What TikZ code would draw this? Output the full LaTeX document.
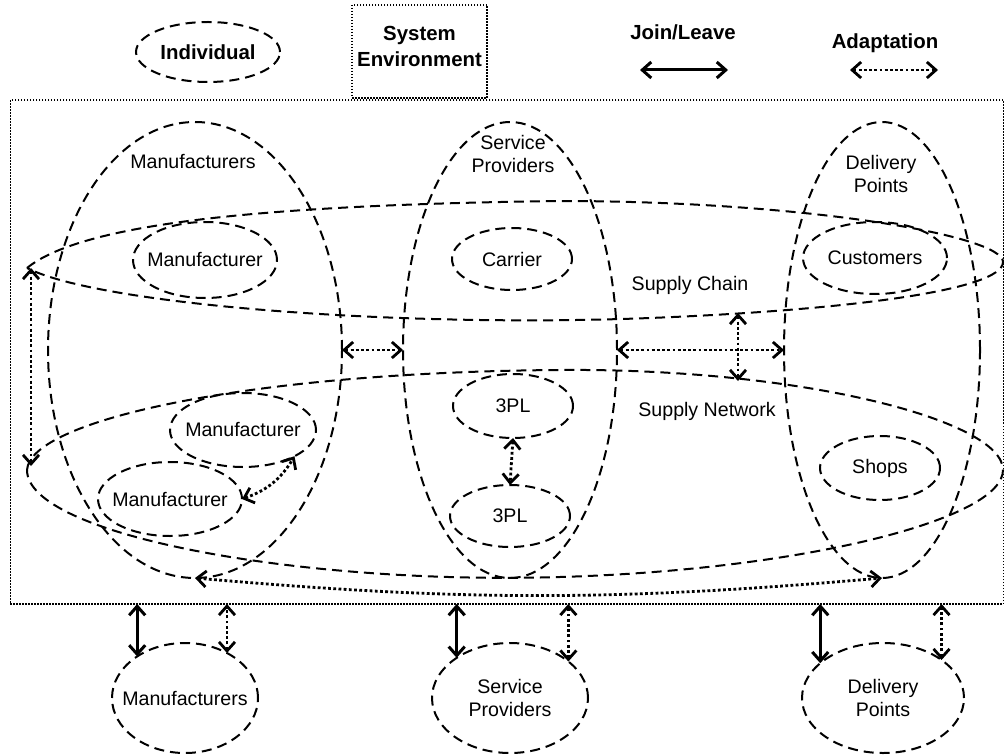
\documentclass[tikz,border=0pt]{standalone}
\usepackage{fontspec}
\setmainfont{Liberation Sans}
\usetikzlibrary{shapes.geometric,arrows.meta}
\begin{document}
\begin{tikzpicture}[x=0.5pt,y=-0.5pt,
  every node/.style={font=\fontsize{9.8}{11.5}\selectfont, inner sep=0pt, outer sep=0pt},
  every label/.style={font=\fontsize{9.8}{11.5}\selectfont, inner sep=0pt, align=center},
  dsh/.style={line width=1pt, dash pattern=on 5pt off 3pt},
  indiv/.style={ellipse, draw, dsh},
  lbl/.style={align=center},
  legtxt/.style={align=center, font=\fontsize{10.2}{13}\selectfont\bfseries},
  envbox/.style={draw, line width=0.75pt, dash pattern=on 0.75pt off 0.75pt},
  adapt/.style={line width=1.4pt, dash pattern=on 1.4pt off 1.2pt,
    {Straight Barb[length=4.5pt,width=8pt]}-{Straight Barb[length=4.5pt,width=8pt]}},
  joinarr/.style={line width=1.5pt,
    {Straight Barb[length=4.5pt,width=8pt]}-{Straight Barb[length=4.5pt,width=8pt]}}
]
\useasboundingbox (0,0) rectangle (1005,754);

% ---------- legend ----------
\node[indiv, minimum width=72pt, minimum height=30pt] (legInd) at (208,52) {};
\node[legtxt] (legIndT) at (208,52) {Individual};
\node[envbox, minimum width=67.5pt, minimum height=46.5pt] (legEnv) at (419.5,51.5) {};
\node[legtxt] (legEnvT) at (419.5,46) {System\\Environment};
\node[legtxt] (legJoinT) at (683,32) {Join/Leave};
\coordinate (jl1) at (640,70);
\coordinate (jl2) at (728,70);
\draw[joinarr] (jl1) -- (jl2);
\node[legtxt] (legAdT) at (885,43) {Adaptation};
\coordinate (ad1) at (850,70);
\coordinate (ad2) at (938,70);
\draw[adapt] (ad1) -- (ad2);

% ---------- system environment ----------
\node[envbox, minimum width=496.5pt, minimum height=252pt] (env) at (506.75,352) {};

% ---------- big groups ----------
\node[indiv, minimum width=147pt, minimum height=228pt] (M) at (195,350) {};
\node[indiv, minimum width=107pt, minimum height=228pt] (S) at (510,350) {};
\node[indiv, minimum width=98pt, minimum height=228pt] (D) at (882,350) {};
\node[lbl] (MT) at (193,162) {Manufacturers};
\node[lbl] (ST) at (513,154) {Service\\Providers};
\node[lbl] (DT) at (881,174) {Delivery\\Points};

% supply chain
\draw[dsh] (27,268) .. controls (80,225) and (250,205) .. (560,201)
  .. controls (800,201) and (1003,235) .. (1003,262)
  .. controls (1003,290) and (850,310) .. (650,318)
  .. controls (400,328) and (100,305) .. (27,268) -- cycle;
\node[lbl] (SCT) at (690,285) {Supply Chain};

% supply network
\draw[dsh] (27,470) .. controls (30,420) and (250,372) .. (560,370)
  .. controls (800,368) and (1003,420) .. (1003,470)
  .. controls (1003,520) and (800,570) .. (560,577)
  .. controls (300,585) and (27,535) .. (27,470) -- cycle;
\node[lbl] (SNT) at (707,411) {Supply Network};

% ---------- individuals ----------
\node[indiv, minimum width=72pt, minimum height=38pt, label=center:Manufacturer] (m1) at (205,260) {};
\node[indiv, minimum width=60pt, minimum height=31pt, label=center:Carrier] (c1) at (512,259) {};
\node[indiv, minimum width=72pt, minimum height=36pt, label=center:Customers] (cu) at (875,258) {};
\node[indiv, minimum width=60pt, minimum height=32pt, label=center:3PL] (p1) at (513,406) {};
\node[indiv, minimum width=60pt, minimum height=31pt, label=center:3PL] (p2) at (510,516) {};
\node[indiv, minimum width=60pt, minimum height=32pt, label=center:Shops] (sh) at (880,468) {};
\node[indiv, minimum width=73pt, minimum height=37pt, label=center:Manufacturer] (m2) at (243,430) {};
\node[indiv, minimum width=72pt, minimum height=37pt, label=center:Manufacturer] (m3) at (170,499) {};

% ---------- adaptation arrows inside ----------
\coordinate (scTip) at (31,268);
\coordinate (snLeft) at (31,466);
\draw[adapt] (scTip) -- (snLeft);
\draw[adapt] (M.east) -- (S.west);
\draw[adapt] (S.east) -- (D.west);
\coordinate (scB) at (738,313);
\coordinate (snT) at (738,381);
\draw[adapt] (scB) -- (snT);
\draw[adapt] (p1.south) -- (p2.north);
\draw[adapt] (m3.east) to[bend right=20] (m2.-27);
\draw[adapt] (M.south) to[bend right=5] (D.south);

% ---------- outside individuals ----------
\node[indiv, minimum width=73pt, minimum height=55pt, label=center:Manufacturers] (bm) at (185,698) {};
\node[indiv, minimum width=78pt, minimum height=55pt, label={center:Service\\Providers}] (bs) at (510,698) {};
\node[indiv, minimum width=81pt, minimum height=55pt, label={center:Delivery\\Points}] (bd) at (883,698) {};

\draw[joinarr] (bm.139.5) -- (bm.139.5 |- env.south);
\draw[adapt] (bm.47) -- (bm.47 |- env.south);
\draw[joinarr] (bs.143.7) -- (bs.143.7 |- env.south);
\draw[adapt] (bs.32.4) -- (bs.32.4 |- env.south);
\draw[joinarr] (bd.151.2) -- (bd.151.2 |- env.south);
\draw[adapt] (bd.33.5) -- (bd.33.5 |- env.south);
\end{tikzpicture}
\end{document}
